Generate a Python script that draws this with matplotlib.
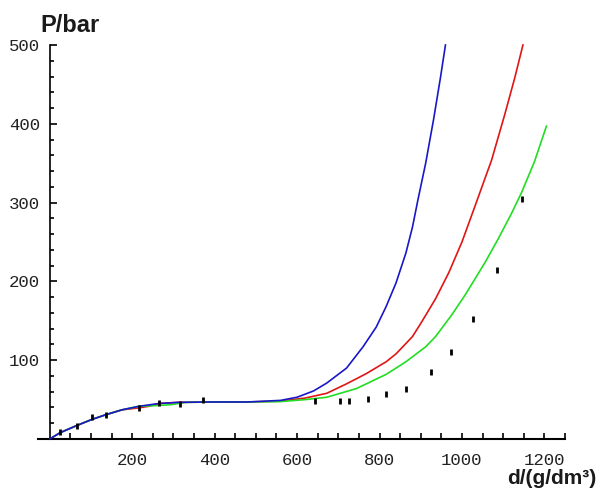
import matplotlib
matplotlib.use("Agg")
import matplotlib.pyplot as plt

# isotherm curves (d in g/dm3, P in bar)
d_blue = [0, 25, 65, 103, 137, 175, 216, 264, 312, 400, 480, 560, 600, 640, 672, 720,
          760, 792, 816, 840, 864, 880, 893, 912, 931, 948, 960]
P_blue = [0, 8, 17, 25, 31, 37, 41.5, 45, 46.5, 47, 47, 49, 53, 61, 71, 90,
          117, 142, 168, 198, 236, 269, 303, 350, 405, 459, 500]

d_red = [0, 25, 65, 103, 137, 175, 216, 240, 264, 312, 400, 480, 560, 620, 672, 720,
         768, 816, 840, 880, 904, 936, 968, 1000, 1032, 1072, 1104, 1128, 1148]
P_red = [0, 8, 17, 25, 31, 37, 39.5, 41.5, 45, 46.5, 47, 47, 48, 52, 58, 70,
         83, 98, 108, 130, 150, 178, 211, 250, 296, 354, 412, 458, 500]

d_green = [0, 25, 65, 103, 137, 175, 216, 264, 293, 330, 400, 480, 560, 620, 672, 744,
           816, 864, 912, 936, 976, 1008, 1056, 1088, 1120, 1144, 1176, 1205]
P_green = [0, 8, 17, 25, 31, 37, 41.5, 42.5, 43.5, 46.5, 47, 47, 47.5, 50, 53, 64,
           82, 98, 117, 130, 158, 183, 224, 254, 286, 312, 352, 397]

# experimental points
d_exp = [24, 65, 103, 137, 216, 264, 317, 372, 643, 703, 727, 772, 816, 864,
         926, 974, 1028, 1085, 1145]
P_exp = [9, 16, 28, 30, 39, 46, 44, 49, 48, 48, 48, 51, 57, 63,
         85, 110, 152, 214, 304]

W, H = 605, 488
fig = plt.figure(figsize=(W / 100, H / 100), dpi=100)
# axes placed so that d=0 -> x=50px, d=1200 -> x=552px, P=0 -> y=439px, P=500 -> y=45px
x0, x1 = -29, 1231
y0, y1 = -2, 502
sx = 502 / 1200
sy = 394 / 500
left = 50 + x0 * sx
right = 50 + x1 * sx
bottom = 439 - y0 * sy
top = 439 - y1 * sy
ax = fig.add_axes([left / W, (H - bottom) / H, (right - left) / W, (bottom - top) / H])
ax.set_xlim(x0, x1)
ax.set_ylim(y0, y1)

ax.plot(d_red, P_red, color="#e01515", lw=1.2, zorder=2)
ax.plot(d_green, P_green, color="#22dd22", lw=1.2, zorder=2)
ax.plot(d_blue, P_blue, color="#1818c8", lw=1.2, zorder=3)
ax.plot(d_exp, P_exp, ls="none", marker="|", ms=4, mew=2, color="black", zorder=4)

for s in ("top", "right"):
    ax.spines[s].set_visible(False)
ax.spines["left"].set_position(("data", 0))
ax.spines["bottom"].set_position(("data", 0))
ax.spines["left"].set_bounds(0, 500)
ax.spines["left"].set_linewidth(1.2)
ax.spines["bottom"].set_linewidth(1.5)

ax.set_xticks([200, 400, 600, 800, 1000, 1200])
ax.set_yticks([100, 200, 300, 400, 500])
ax.set_xticks([t for t in range(50, 1251, 50) if t % 200], minor=True)
ax.set_yticks([t for t in range(20, 500, 20) if t % 100], minor=True)

ax.tick_params(axis="both", which="both", direction="in", color="black", labelcolor="#222222")
ax.tick_params(axis="x", which="major", length=4, width=1.2, pad=10)
ax.tick_params(axis="x", which="minor", length=4, width=1.2)
ax.tick_params(axis="y", which="major", length=5, width=1.2, pad=7)
ax.tick_params(axis="y", which="minor", length=3, width=1.2)
for lab in ax.get_xticklabels() + ax.get_yticklabels():
    lab.set_fontfamily("Liberation Mono")
    lab.set_fontsize(12.5)

fig.text(40 / W, (H - 32) / H, "P/bar", family="Liberation Sans", weight="bold",
         fontsize=17, va="baseline", ha="left", color="#1a1a1a")
fig.text(507 / W, (H - 484) / H, "d/(g/dm³)", family="Liberation Sans", weight="bold",
         fontsize=15, va="baseline", ha="left", color="#1a1a1a")

fig.savefig("out.png", dpi=100)
